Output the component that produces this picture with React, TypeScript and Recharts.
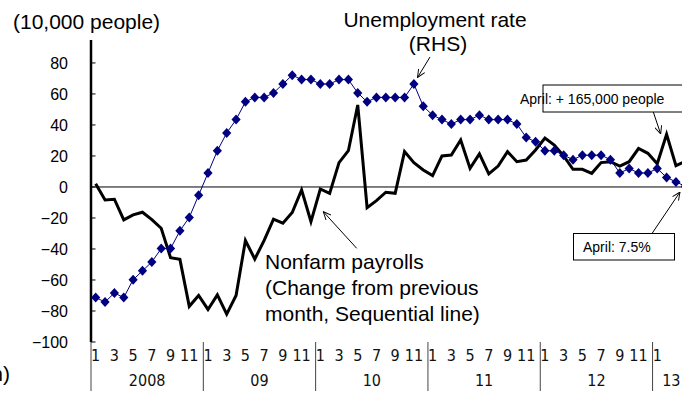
import React from 'react';
import { LineChart, Line, XAxis, YAxis, ReferenceLine } from 'recharts';

// ---- data ----
const years = ['2008', '09', '10', '11', '12', '13'];
const monthsInYear = [12, 12, 12, 12, 12, 4];
const monthLabelsByYear = [
  [1, 3, 5, 7, 9, 11],
  [1, 3, 5, 7, 9, 11],
  [1, 3, 5, 7, 9, 11],
  [1, 3, 5, 7, 9, 11],
  [1, 3, 5, 7, 9, 11],
  [1],
];

// Nonfarm payrolls, change from previous month (10,000 people)
const payrolls = [
  2, -8.4, -7.9, -21.2, -18, -16.3, -21, -26.6, -45.6, -46.7, -77, -70,
  -79, -69.6, -82, -70, -34.5, -46.5, -34.5, -20.8, -23.4, -16.5, -1.9, -22.3,
  -1.3, -4.1, 15.7, 23.4, 52.9, -13.3, -8.8, -3.4, -4.1, 22.8, 15.7, 11,
  7.3, 20, 20.6, 30.3, 12, 21.3, 8.4, 13.5, 22.8, 16.3, 17.4, 23.9,
  31.6, 27, 20, 11.4, 11.4, 8.8, 15.7, 16.3, 13.5, 16.3, 24.8, 21.7,
  15, 34, 13.8, 16.5,
];

// Unemployment rate (%, RHS)
const unemployment = [
  5.0, 4.9, 5.1, 5.0, 5.4, 5.6, 5.8, 6.1, 6.1, 6.5, 6.8, 7.3,
  7.8, 8.3, 8.7, 9.0, 9.4, 9.5, 9.5, 9.6, 9.8, 10.0, 9.9, 9.9,
  9.8, 9.8, 9.9, 9.9, 9.6, 9.4, 9.5, 9.5, 9.5, 9.5, 9.8, 9.3,
  9.1, 9.0, 8.9, 9.0, 9.0, 9.1, 9.0, 9.0, 9.0, 8.9, 8.6, 8.5,
  8.3, 8.3, 8.2, 8.1, 8.2, 8.2, 8.2, 8.1, 7.8, 7.9, 7.8, 7.8,
  7.9, 7.7, 7.6, 7.5,
];

const leftTicks = [-100, -80, -60, -40, -20, 0, 20, 40, 60, 80];
const leftDomain = [-100, 94.8];
const rightDomain = [4, 10.79];

// ---- build table ----
const data: any[] = [];
const tickInfo = new Map<number, { kind: string; text: string }>();
let idx = 0;
years.forEach((y, yi) => {
  const start = idx;
  const n = monthsInYear[yi];
  for (let m = 1; m <= n; m++) {
    data.push({ i: idx, year: y, month: m, payrolls: payrolls[idx], rate: unemployment[idx] });
    idx++;
  }
  tickInfo.set(start - 0.5, { kind: 'sep', text: '' });
  tickInfo.set(start + (n - 1) / 2, { kind: 'year', text: y });
  monthLabelsByYear[yi].forEach((m) => tickInfo.set(start + m - 1, { kind: 'month', text: String(m) }));
});
const xTicks = Array.from(tickInfo.keys()).sort((a, b) => a - b);

const FONT = "'Liberation Sans', Arial, Helvetica, sans-serif";
const NARROW = "'Liberation Sans Narrow', 'Arial Narrow', 'DejaVu Sans Condensed', sans-serif";

const fmt = (v: number) => (v < 0 ? '\u2212' + Math.abs(v) : String(v));

const LeftTick = (props: any) => {
  const { x, y, payload } = props;
  return (
    <g>
      <line x1={x} x2={x + 4.5} y1={y} y2={y} stroke="#000" strokeWidth={1} />
      <text x={x - 23} y={y} dy={6} textAnchor="end" fontSize={16} fontFamily={FONT} fill="#000">
        {fmt(payload.value)}
      </text>
    </g>
  );
};

const BottomTick = (props: any) => {
  const { x, y, payload } = props;
  const info = tickInfo.get(payload.value);
  if (!info) return <g />;
  if (info.kind === 'sep') {
    return <line x1={x} x2={x} y1={y} y2={y + 49} stroke="#444" strokeWidth={1} />;
  }
  if (info.kind === 'year') {
    return (
      <text x={x} y={y} dy={44.3} textAnchor="middle" fontSize={16} fontFamily={NARROW} fill="#111">
        {info.text}
      </text>
    );
  }
  return (
    <text x={x} y={y} dy={19.3} textAnchor="middle" fontSize={16} fontFamily={NARROW} fill="#111">
      {info.text}
    </text>
  );
};

const Diamond = (props: any) => {
  const { cx, cy } = props;
  if (cx == null || cy == null) return <g />;
  return (
    <path
      d={`M${cx},${cy - 5} L${cx + 4.6},${cy} L${cx},${cy + 5} L${cx - 4.6},${cy} Z`}
      fill="#000080"
      stroke="none"
    />
  );
};

export default function App() {
  return (
    <div style={{ position: 'absolute', left: 0, top: 0, width: 682, height: 409, overflow: 'hidden', background: '#fff' }}>
      <LineChart
        width={720}
        height={409}
        data={data}
        margin={{ top: 40, right: 30, bottom: 17, left: 31 }}
      >
        <XAxis
          dataKey="i"
          type="number"
          domain={[-0.5, 63.5]}
          allowDataOverflow
          ticks={xTicks}
          interval={0}
          height={50}
          tickLine={false}
          axisLine={false}
          tickSize={0}
          tickMargin={0}
          tick={<BottomTick />}
        />
        <YAxis
          yAxisId="left"
          domain={leftDomain}
          allowDataOverflow
          ticks={leftTicks}
          interval={0}
          width={60}
          tickLine={false}
          tickSize={0}
          tickMargin={0}
          axisLine={{ stroke: '#000', strokeWidth: 2.5 }}
          tick={<LeftTick />}
        />
        <YAxis yAxisId="right" orientation="right" hide domain={rightDomain} allowDataOverflow />
        <ReferenceLine yAxisId="left" y={0} stroke="#000" strokeWidth={1} />
        <Line
          yAxisId="left"
          type="linear"
          dataKey="payrolls"
          stroke="#000"
          strokeWidth={3}
          dot={false}
          isAnimationActive={false}
        />
        <Line
          yAxisId="right"
          type="linear"
          dataKey="rate"
          stroke="#000080"
          strokeWidth={1}
          dot={<Diamond />}
          activeDot={false}
          isAnimationActive={false}
        />
      </LineChart>
      <svg
        width={682}
        height={409}
        style={{ position: 'absolute', left: 0, top: 0, pointerEvents: 'none' }}
        fontFamily={FONT}
      >
        <defs>
          <marker
            id="arr"
            viewBox="0 0 10 10"
            refX="10"
            refY="5"
            markerWidth="8"
            markerHeight="8"
            orient="auto"
            markerUnits="userSpaceOnUse"
          >
            <path d="M0,0.5 L10,5 L0,9.5" fill="none" stroke="#000" strokeWidth={1.2} />
          </marker>
        </defs>
        <text x={13} y={28.5} fontSize={21} fill="#000">(10,000 people)</text>
        <text x={435} y={27} fontSize={21} fill="#000" textAnchor="middle">Unemployment rate</text>
        <text x={438} y={50.5} fontSize={21} fill="#000" textAnchor="middle">(RHS)</text>
        <line x1={430} y1={57} x2={417.5} y2={77.5} stroke="#000" strokeWidth={1} markerEnd="url(#arr)" />

        <text x={265} y={268.5} fontSize={21} fill="#000">Nonfarm payrolls</text>
        <text x={265} y={294.5} fontSize={21} fill="#000">(Change from previous</text>
        <text x={265} y={320.5} fontSize={21} fill="#000">month, Sequential line)</text>
        <line x1={356.7} y1={248.3} x2={323.3} y2={211.7} stroke="#000" strokeWidth={1} markerEnd="url(#arr)" />

        <rect x={543} y={85} width={160} height={27} fill="#fff" stroke="#000" strokeWidth={1} />
        <text x={520} y={103.5} fontSize={14} fill="#000">April: + 165,000 people</text>
        <line x1={653.3} y1={112} x2={660.7} y2={134} stroke="#000" strokeWidth={1} markerEnd="url(#arr)" />

        <rect x={573.5} y={233.5} width={101} height={26.5} fill="#fff" stroke="#000" strokeWidth={1} />
        <text x={583} y={251.5} fontSize={14} fill="#000">April: 7.5%</text>
        <line x1={652} y1={233.5} x2={680} y2={192} stroke="#000" strokeWidth={1} markerEnd="url(#arr)" />

        <text x={10} y={380.5} fontSize={21} fill="#000" textAnchor="end">(Month)</text>
      </svg>
    </div>
  );
}
